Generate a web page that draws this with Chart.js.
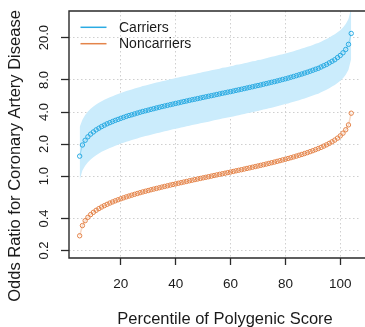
<!DOCTYPE html>
<html>
<head>
<meta charset="utf-8">
<script src="https://cdn.jsdelivr.net/npm/chart.js@4.4.1/dist/chart.umd.min.js"></script>
<style>
  html, body { margin: 0; padding: 0; background: #ffffff; overflow: hidden; }
  #wrap { position: relative; width: 365px; height: 327px; }
</style>
</head>
<body>
<div id="wrap"><canvas id="chart"></canvas></div>
<script>
// Percentile positions of the polygenic score
const percentile = [
  5, 6, 7, 8, 9, 10, 11, 12, 13, 14, 15, 16, 17, 18, 19, 20, 21, 22, 23, 24,
  25, 26, 27, 28, 29, 30, 31, 32, 33, 34, 35, 36, 37, 38, 39, 40, 41, 42, 43, 44,
  45, 46, 47, 48, 49, 50, 51, 52, 53, 54, 55, 56, 57, 58, 59, 60, 61, 62, 63, 64,
  65, 66, 67, 68, 69, 70, 71, 72, 73, 74, 75, 76, 77, 78, 79, 80, 81, 82, 83, 84,
  85, 86, 87, 88, 89, 90, 91, 92, 93, 94, 95, 96, 97, 98, 99, 100, 101, 102, 103, 104
];

// Odds ratio, carriers
const carriers = [
  1.54, 1.96, 2.17, 2.34, 2.48, 2.60, 2.72, 2.82, 2.92, 3.01, 3.10, 3.18, 3.26, 3.34, 3.41, 3.49, 3.56, 3.64, 3.71, 3.77,
  3.84, 3.91, 3.98, 4.05, 4.11, 4.17, 4.24, 4.30, 4.37, 4.43, 4.50, 4.56, 4.62, 4.69, 4.75, 4.82, 4.88, 4.95, 5.02, 5.08,
  5.15, 5.22, 5.28, 5.35, 5.42, 5.49, 5.56, 5.63, 5.70, 5.77, 5.85, 5.92, 6.00, 6.07, 6.15, 6.22, 6.30, 6.39, 6.47, 6.55,
  6.64, 6.73, 6.82, 6.91, 7.01, 7.10, 7.19, 7.30, 7.40, 7.51, 7.62, 7.72, 7.84, 7.96, 8.09, 8.21, 8.34, 8.49, 8.63, 8.79,
  8.95, 9.11, 9.29, 9.47, 9.67, 9.88, 10.1, 10.3, 10.6, 10.9, 11.2, 11.6, 12.0, 12.4, 13.0, 13.6, 14.4, 15.5, 17.3, 21.9
];

// Confidence band for carriers
const carriersLower = [
  0.92, 1.13, 1.25, 1.35, 1.43, 1.50, 1.57, 1.63, 1.69, 1.74, 1.79, 1.84, 1.88, 1.93, 1.97, 2.02, 2.06, 2.10, 2.14, 2.18,
  2.22, 2.26, 2.30, 2.34, 2.38, 2.41, 2.45, 2.49, 2.53, 2.56, 2.60, 2.64, 2.67, 2.71, 2.75, 2.79, 2.82, 2.86, 2.90, 2.94,
  2.98, 3.02, 3.05, 3.09, 3.13, 3.17, 3.21, 3.25, 3.29, 3.34, 3.38, 3.42, 3.47, 3.51, 3.55, 3.60, 3.64, 3.69, 3.74, 3.79,
  3.84, 3.89, 3.94, 3.99, 4.05, 4.10, 4.16, 4.22, 4.28, 4.34, 4.40, 4.46, 4.53, 4.60, 4.68, 4.75, 4.82, 4.91, 4.99, 5.08,
  5.17, 5.27, 5.37, 5.47, 5.59, 5.71, 5.84, 5.95, 6.13, 6.30, 6.47, 6.70, 6.94, 7.17, 7.51, 7.86, 8.32, 8.96, 10.0, 12.7
];
const carriersUpper = [
  2.90, 3.39, 3.75, 4.05, 4.29, 4.50, 4.71, 4.88, 5.05, 5.21, 5.36, 5.50, 5.64, 5.78, 5.90, 6.04, 6.16, 6.30, 6.42, 6.52,
  6.64, 6.76, 6.89, 7.01, 7.11, 7.21, 7.34, 7.44, 7.56, 7.66, 7.79, 7.89, 7.99, 8.11, 8.22, 8.34, 8.44, 8.56, 8.68, 8.79,
  8.91, 9.03, 9.13, 9.26, 9.38, 9.50, 9.62, 9.74, 9.86, 9.98, 10.1, 10.2, 10.4, 10.5, 10.6, 10.8, 10.9, 11.1, 11.2, 11.3,
  11.5, 11.6, 11.8, 12.0, 12.1, 12.3, 12.4, 12.6, 12.8, 13.0, 13.2, 13.4, 13.6, 13.8, 14.0, 14.2, 14.4, 14.7, 14.9, 15.2,
  15.5, 15.8, 16.1, 16.4, 16.7, 17.1, 17.5, 17.8, 18.3, 18.9, 19.4, 20.1, 20.8, 21.5, 22.5, 23.5, 24.9, 26.8, 29.9, 37.9
];

// Odds ratio, noncarriers
const noncarriers = [
  0.275, 0.343, 0.381, 0.410, 0.435, 0.457, 0.477, 0.495, 0.512, 0.528, 0.543, 0.558, 0.572, 0.586, 0.599, 0.612, 0.625, 0.638, 0.650, 0.662,
  0.674, 0.686, 0.698, 0.710, 0.721, 0.732, 0.744, 0.755, 0.766, 0.777, 0.789, 0.800, 0.811, 0.823, 0.834, 0.845, 0.857, 0.868, 0.880, 0.891,
  0.904, 0.915, 0.927, 0.939, 0.951, 0.963, 0.975, 0.987, 1.000, 1.013, 1.026, 1.039, 1.052, 1.065, 1.079, 1.092, 1.106, 1.121, 1.135, 1.149,
  1.165, 1.181, 1.196, 1.212, 1.229, 1.245, 1.262, 1.280, 1.298, 1.317, 1.336, 1.355, 1.376, 1.397, 1.419, 1.441, 1.464, 1.489, 1.514, 1.542,
  1.570, 1.598, 1.629, 1.662, 1.697, 1.733, 1.774, 1.815, 1.861, 1.914, 1.968, 2.030, 2.100, 2.179, 2.273, 2.387, 2.532, 2.726, 3.028, 3.90
];

const xTicks = [20, 40, 60, 80, 100];
const yTicks = [0.2, 0.4, 1, 2, 4, 8, 20];
const seriesNames = ['Carriers', 'Noncarriers'];
const xTitle = 'Percentile of Polygenic Score';
const yTitle = 'Odds Ratio for Coronary Artery Disease';

const FONT = '"Liberation Sans", Arial, Helvetica, sans-serif';
const BLUE = '#2aabe3';
const ORANGE = '#e4844a';
const BAND = '#cbecfc';
const INK = '#1a1a1a';

const pts = (vals) => percentile.map((p, i) => ({ x: p, y: vals[i] }));

// Frame, rotated y tick labels, axis titles and the legend
const decor = {
  id: 'decor',
  afterDraw(chart) {
    const { ctx, chartArea: a, scales: { y } } = chart;
    ctx.save();
    ctx.strokeStyle = '#2a2a2a';
    ctx.lineWidth = 1.4;
    ctx.beginPath();
    ctx.moveTo(a.right + 5, a.top);
    ctx.lineTo(a.left, a.top);
    ctx.lineTo(a.left, a.bottom);
    ctx.lineTo(a.right + 5, a.bottom);
    ctx.stroke();

    ctx.fillStyle = INK;
    ctx.font = '13px ' + FONT;
    ctx.textAlign = 'center';
    ctx.textBaseline = 'middle';
    yTicks.forEach(v => {
      const py = y.getPixelForValue(v);
      ctx.save();
      ctx.translate(44, py);
      ctx.rotate(-Math.PI / 2);
      ctx.fillText(v.toFixed(1), 0, 0);
      ctx.restore();
    });

    ctx.font = '16.5px ' + FONT;
    ctx.fillText(xTitle, 225, 319);
    ctx.save();
    ctx.translate(15.5, 156);
    ctx.rotate(-Math.PI / 2);
    ctx.fillText(yTitle, 0, 0);
    ctx.restore();

    const colors = [BLUE, ORANGE];
    const rows = [27.3, 43.7];
    ctx.font = '14px ' + FONT;
    ctx.textAlign = 'left';
    seriesNames.forEach((name, i) => {
      ctx.strokeStyle = colors[i];
      ctx.lineWidth = 1.5;
      ctx.beginPath();
      ctx.moveTo(80.5, rows[i]);
      ctx.lineTo(106.5, rows[i]);
      ctx.stroke();
      ctx.fillStyle = INK;
      ctx.fillText(name, 119, rows[i] + 0.5);
    });
    ctx.restore();
  }
};

new Chart(document.getElementById('chart'), {
  type: 'scatter',
  data: {
    datasets: [
      {
        label: seriesNames[0],
        data: pts(carriers),
        showLine: true,
        borderColor: 'rgba(42,171,227,0.35)',
        borderWidth: 1,
        pointRadius: 2.2,
        pointBorderWidth: 1,
        pointBorderColor: BLUE,
        pointBackgroundColor: 'rgba(0,0,0,0)',
        order: 1
      },
      {
        label: seriesNames[1],
        data: pts(noncarriers),
        showLine: true,
        borderColor: 'rgba(228,132,74,0.3)',
        borderWidth: 1.5,
        pointRadius: 2.2,
        pointBorderWidth: 1,
        pointBorderColor: ORANGE,
        pointBackgroundColor: 'rgba(0,0,0,0)',
        order: 1
      },
      {
        label: 'upper',
        data: pts(carriersUpper),
        showLine: true,
        borderWidth: 0,
        borderColor: 'rgba(0,0,0,0)',
        pointRadius: 0,
        backgroundColor: BAND,
        fill: 3,
        order: 5
      },
      {
        label: 'lower',
        data: pts(carriersLower),
        showLine: true,
        borderWidth: 0,
        borderColor: 'rgba(0,0,0,0)',
        pointRadius: 0,
        fill: false,
        order: 5
      }
    ]
  },
  options: {
    responsive: true,
    maintainAspectRatio: false,
    animation: false,
    devicePixelRatio: 1,
    layout: { padding: { top: 11, right: 0, bottom: 0, left: 0 } },
    plugins: { legend: { display: false }, tooltip: { enabled: false } },
    scales: {
      x: {
        type: 'linear',
        min: 1.11,
        max: 107.2,
        z: 1,
        afterBuildTicks: s => { s.ticks = xTicks.map(v => ({ value: v })); },
        afterFit: s => { s.height = 69; },
        ticks: { color: INK, font: { family: FONT, size: 13.5 }, padding: 11, maxRotation: 0 },
        grid: { color: '#cfcfcf', lineWidth: 1, drawTicks: true, tickLength: 7, tickColor: '#2a2a2a', tickWidth: 1.3 },
        border: { display: false, dash: [1.5, 2.5] }
      },
      y: {
        type: 'logarithmic',
        min: 0.170,
        max: 35.6,
        z: 1,
        afterBuildTicks: s => { s.ticks = yTicks.map(v => ({ value: v })); },
        afterFit: s => { s.width = 69; },
        ticks: { display: false },
        grid: { color: '#cfcfcf', lineWidth: 1, drawTicks: true, tickLength: 8, tickColor: '#2a2a2a', tickWidth: 1.3 },
        border: { display: false, dash: [1.5, 2.5] }
      }
    }
  },
  plugins: [decor]
});
</script>
</body>
</html>
